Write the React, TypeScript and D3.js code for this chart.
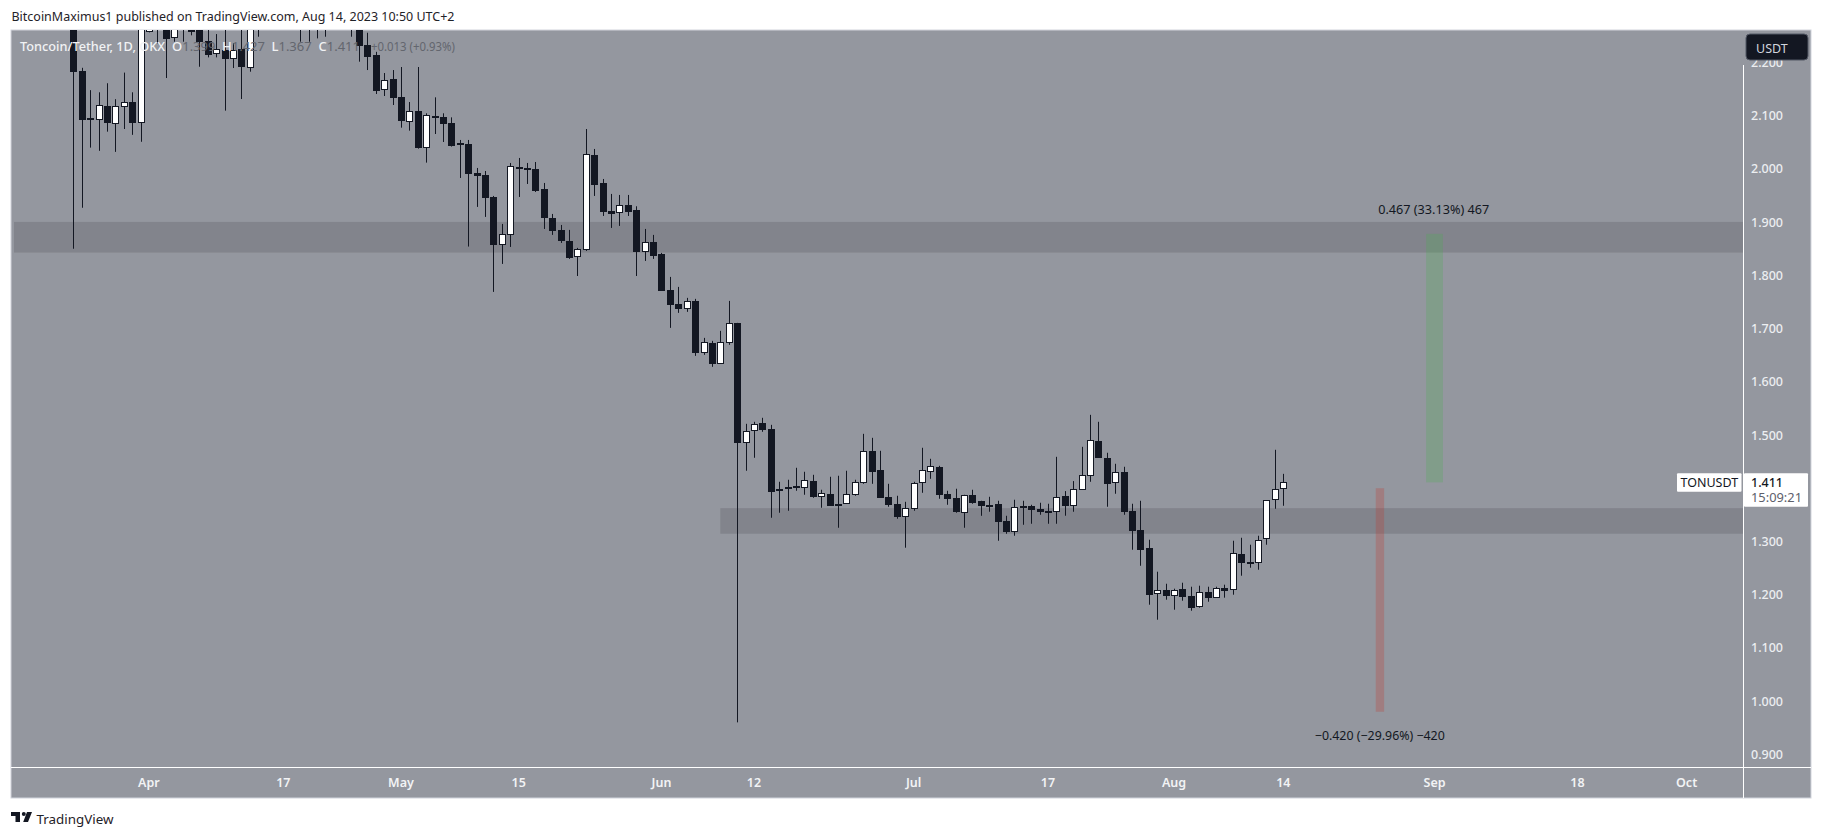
import React from "react";
import * as d3 from "d3";

const firstDay = Date.UTC(2023, 2, 23);
const lastDay = Date.UTC(2023, 7, 14);
const DAY = 86400000;

const opens = [
  2.31, 2.184, 2.095, 2.092, 2.119, 2.085, 2.117, 2.126, 2.087, 2.2566,
  2.30, 2.29, 2.2453, 2.30, 2.262, 2.285, 2.2403, 2.2153, 2.2234, 2.2071,
  2.2253, 2.1902, 2.29, 2.31, 2.32, 2.31, 2.32, 2.31, 2.30, 2.30,
  2.31, 2.31, 2.31, 2.31, 2.29, 2.2328, 2.214, 2.1476, 2.1689, 2.1351,
  2.0888, 2.1088, 2.04, 2.0988, 2.0976, 2.0863, 2.0487, 2.0469, 1.9924, 1.9886,
  1.9473, 1.8572, 1.8766, 2.0037, 2.0018, 1.9999, 1.9624, 1.9079, 1.8854, 1.8647,
  1.8346, 1.8478, 2.0262, 1.9736, 1.921, 1.9173, 1.9323, 1.9229, 1.844, 1.8628,
  1.8403, 1.7727, 1.7464, 1.737, 1.752, 1.6544, 1.6731, 1.6337, 1.6731, 1.7107,
  1.4841, 1.5066, 1.5229, 1.5116, 1.3939, 1.3977, 1.4046, 1.4008, 1.414, 1.3839,
  1.3896, 1.3708, 1.3708, 1.3877, 1.4102, 1.4703, 1.4346, 1.3839, 1.3708, 1.3464,
  1.3614, 1.4102, 1.4309, 1.4403, 1.3896, 1.3821, 1.3539, 1.3877, 1.3764, 1.3689,
  1.3708, 1.3389, 1.3182, 1.367, 1.367, 1.3614, 1.3577, 1.3545, 1.3852, 1.367,
  1.3971, 1.4234, 1.4885, 1.4572, 1.4102, 1.4309, 1.3576, 1.322, 1.2882, 1.2005,
  1.2093, 1.1968, 1.2112, 1.198, 1.1774, 1.2055, 1.1943, 1.213, 1.208, 1.2769,
  1.2619, 1.2587, 1.3038, 1.377, 1.399,
];
const highs = [
  2.33, 2.19, 2.148, 2.144, 2.161, 2.131, 2.181, 2.144, 2.32, 2.32,
  2.33, 2.31, 2.33, 2.34, 2.30, 2.31, 2.27, 2.2534, 2.28, 2.236,
  2.27, 2.34, 2.34, 2.34, 2.34, 2.34, 2.34, 2.33, 2.33, 2.33,
  2.33, 2.33, 2.33, 2.33, 2.32, 2.2559, 2.22, 2.1802, 2.1858, 2.1915,
  2.1257, 2.1915, 2.1045, 2.1345, 2.1045, 2.0969, 2.0544, 2.0544, 2.0018, 1.9961,
  1.9492, 1.8966, 2.0112, 2.0206, 2.0112, 2.013, 1.9736, 1.9154, 1.8947, 1.8854,
  1.8516, 2.075, 2.0375, 1.9811, 1.953, 1.9511, 1.9511, 1.9298, 1.8872, 1.876,
  1.8422, 1.7971, 1.7783, 1.7577, 1.7558, 1.6825, 1.6769, 1.6957, 1.752, 1.7107,
  1.521, 1.5248, 1.5323, 1.5191, 1.4121, 1.4159, 1.4384, 1.4309, 1.4252, 1.3971,
  1.4215, 1.4234, 1.4328, 1.4159, 1.5022, 1.4947, 1.4703, 1.4083, 1.3858, 1.3745,
  1.4121, 1.476, 1.4553, 1.4421, 1.3952, 1.399, 1.3877, 1.3971, 1.3764, 1.3839,
  1.3764, 1.3482, 1.3783, 1.3764, 1.3689, 1.3727, 1.3708, 1.459, 1.3946, 1.4134,
  1.4778, 1.5379, 1.5248, 1.4666, 1.4459, 1.4403, 1.3708, 1.3764, 1.3032, 1.2431,
  1.2205, 1.2112, 1.2224, 1.2149, 1.2168, 1.2149, 1.2149, 1.2187, 1.3013, 1.3069,
  1.2938, 1.3107, 1.3777, 1.4722, 1.427,
];
const lows = [
  1.85, 1.927, 2.04, 2.034, 2.07, 2.032, 2.075, 2.064, 2.051, 2.2566,
  2.236, 2.1708, 2.239, 2.239, 2.251, 2.192, 2.2096, 2.2096, 2.1095, 2.1896,
  2.1314, 2.1827, 2.2484, 2.28, 2.28, 2.28, 2.28, 2.239, 2.239, 2.2453,
  2.2484, 2.28, 2.28, 2.2484, 2.2015, 2.1858, 2.1408, 2.137, 2.1201, 2.0775,
  2.0719, 2.0381, 2.0118, 2.0656, 2.0506, 2.042, 1.983, 1.8541, 1.9286, 1.9098,
  1.7689, 1.8215, 1.8534, 1.9473, 1.9717, 1.9567, 1.8872, 1.876, 1.8609, 1.8309,
  1.7988, 1.8459, 1.9492, 1.9116, 1.8891, 1.8929, 1.9116, 1.7988, 1.8271, 1.8309,
  1.7708, 1.7013, 1.7295, 1.7314, 1.6487, 1.6506, 1.6281, 1.6337, 1.6694, 0.96,
  1.4328, 1.4572, 1.506, 1.3445, 1.3539, 1.3576, 1.3952, 1.3877, 1.382, 1.3633,
  1.367, 1.3257, 1.3708, 1.3858, 1.4083, 1.4083, 1.3821, 1.3652, 1.3426, 1.2882,
  1.3576, 1.3914, 1.4177, 1.3802, 1.3689, 1.3539, 1.3257, 1.3708, 1.3482, 1.3558,
  1.3013, 1.3144, 1.3107, 1.3313, 1.3332, 1.3501, 1.3332, 1.3332, 1.3483, 1.3558,
  1.3971, 1.4121, 1.4572, 1.3652, 1.3896, 1.3501, 1.2844, 1.2543, 1.1811, 1.1529,
  1.1905, 1.1717, 1.1886, 1.1698, 1.1755, 1.1867, 1.1943, 1.1943, 1.1999, 1.2356,
  1.2506, 1.2468, 1.2938, 1.3614, 1.367,
];
const closes = [
  2.183, 2.092, 2.092, 2.121, 2.087, 2.118, 2.125, 2.087, 2.29, 2.30,
  2.29, 2.244, 2.30, 2.31, 2.258, 2.2378, 2.214, 2.2259, 2.2065, 2.224,
  2.1921, 2.30, 2.31, 2.32, 2.31, 2.32, 2.31, 2.30, 2.30, 2.31,
  2.31, 2.31, 2.31, 2.29, 2.2315, 2.2109, 2.147, 2.1671, 2.1339, 2.0907,
  2.1088, 2.04, 2.1007, 2.0969, 2.0844, 2.0431, 2.0456, 1.9905, 1.9868, 1.9455,
  1.8572, 1.8772, 2.0055, 2.0, 1.998, 1.9586, 1.9079, 1.8835, 1.8647, 1.8328,
  1.8491, 2.0275, 1.9699, 1.9192, 1.9154, 1.9317, 1.9192, 1.844, 1.8622, 1.8365,
  1.7708, 1.7445, 1.737, 1.7514, 1.6544, 1.6744, 1.6337, 1.6744, 1.7101, 1.4853,
  1.5072, 1.5204, 1.5098, 1.3933, 1.3983, 1.4021, 1.4008, 1.4158, 1.3839, 1.3914,
  1.367, 1.367, 1.3896, 1.4121, 1.4703, 1.4309, 1.3821, 1.3689, 1.3464, 1.3633,
  1.4102, 1.4346, 1.4421, 1.3877, 1.3802, 1.3558, 1.3877, 1.3727, 1.367, 1.3652,
  1.337, 1.3182, 1.3651, 1.3652, 1.3595, 1.3558, 1.3539, 1.3833, 1.367, 1.3983,
  1.4246, 1.4904, 1.4572, 1.4083, 1.4303, 1.3558, 1.3201, 1.2844, 1.1999, 1.2087,
  1.198, 1.2087, 1.1961, 1.1755, 1.2049, 1.1943, 1.2124, 1.2074, 1.2781, 1.26,
  1.2581, 1.3025, 1.3777, 1.3983, 1.411,
];

const priceTicks = [0.9, 1.0, 1.1, 1.2, 1.3, 1.4, 1.5, 1.6, 1.7, 1.8, 1.9, 2.0, 2.1, 2.2];
const timeTicks: [number, string][] = [
  [Date.UTC(2023, 3, 1), "Apr"],
  [Date.UTC(2023, 3, 17), "17"],
  [Date.UTC(2023, 4, 1), "May"],
  [Date.UTC(2023, 4, 15), "15"],
  [Date.UTC(2023, 5, 1), "Jun"],
  [Date.UTC(2023, 5, 12), "12"],
  [Date.UTC(2023, 6, 1), "Jul"],
  [Date.UTC(2023, 6, 17), "17"],
  [Date.UTC(2023, 7, 1), "Aug"],
  [Date.UTC(2023, 7, 14), "14"],
  [Date.UTC(2023, 8, 1), "Sep"],
  [Date.UTC(2023, 8, 18), "18"],
  [Date.UTC(2023, 9, 1), "Oct"],
];

const upperZone = [1.8428, 1.9004];
const lowerZone = [1.3145, 1.3625];
const lowerZoneStart = Date.UTC(2023, 5, 8);
const gainBox = { from: Date.UTC(2023, 7, 31), to: Date.UTC(2023, 8, 2), bottom: 1.411, top: 1.878 };
const lossBox = { from: Date.UTC(2023, 7, 25), to: Date.UTC(2023, 7, 26), bottom: 0.98, top: 1.4 };

const FONT = "'Noto Sans', 'Open Sans', sans-serif";
const BG = "#94979f";
const INK = "#131722";

const W = 1826;
const H = 837;
const L = 11;
const R = 1811;
const AX = 1743;
const T = 30;
const B = 767;
const PB = 798;

const x = d3.scaleUtc().domain([firstDay, lastDay]).range([73.3, 1283.3]);
const y = d3.scaleLinear().domain([0.9, 2.1]).range([754.3, 115.7]);

export default function App() {
  const upperTop = y(upperZone[1]);
  const lowerTop = y(lowerZone[1]);
  return (
    <svg
      width={W}
      height={H}
      viewBox={`0 0 ${W} ${H}`}
      style={{ position: "fixed", left: 0, top: 0, display: "block", background: "#fff" }}
    >
      <defs>
        <clipPath id="plot">
          <rect x={L} y={T} width={AX - L} height={B - T} />
        </clipPath>
      </defs>

      <text x={11.5} y={21} fontFamily={FONT} fontSize={13.4} fill="#1f2228" textLength={443} lengthAdjust="spacingAndGlyphs">
        BitcoinMaximus1 published on TradingView.com, Aug 14, 2023 10:50 UTC+2
      </text>

      <rect x={L} y={T} width={R - L} height={PB - T} fill={BG} stroke="#d1d4dc" strokeWidth={1} />

      <rect x={L + 3} y={upperTop} width={AX - L - 3} height={y(upperZone[0]) - upperTop} fill="#82848c" />
      <rect x={x(lowerZoneStart)} y={lowerTop} width={AX - x(lowerZoneStart)} height={y(lowerZone[0]) - lowerTop} fill="#82848c" />

      <g clipPath="url(#plot)">
        {closes.map((c, i) => {
          const o = opens[i];
          const cx = Math.round(x(firstDay + i * DAY)) + 0.5;
          const up = c >= o;
          const top = Math.round(y(Math.max(o, c)));
          const bot = Math.round(y(Math.min(o, c)));
          return (
            <g key={i}>
              <line x1={cx} x2={cx} y1={y(highs[i])} y2={y(lows[i])} stroke={INK} strokeWidth={1} />
              {up ? (
                <rect x={cx - 3} y={top + 0.5} width={6} height={Math.max(bot - top - 1, 1)} fill="#fff" stroke={INK} strokeWidth={1} />
              ) : (
                <rect x={cx - 3.5} y={top} width={7} height={Math.max(bot - top, 2)} fill={INK} />
              )}
            </g>
          );
        })}
      </g>

      <rect x={x(gainBox.from)} y={y(gainBox.top)} width={x(gainBox.to) - x(gainBox.from)} height={y(gainBox.bottom) - y(gainBox.top)} fill="#4caf50" fillOpacity={0.27} />
      <rect x={x(lossBox.from)} y={y(lossBox.top)} width={x(lossBox.to) - x(lossBox.from)} height={y(lossBox.bottom) - y(lossBox.top)} fill="#c0392b" fillOpacity={0.27} />

      <text x={1433.7} y={213.7} textAnchor="middle" fontFamily={FONT} fontSize={12.5} fill={INK} textLength={111} lengthAdjust="spacingAndGlyphs">
        0.467 (33.13%) 467
      </text>
      <text x={1379.8} y={740} textAnchor="middle" fontFamily={FONT} fontSize={12.5} fill={INK} textLength={130} lengthAdjust="spacingAndGlyphs">
        −0.420 (−29.96%) −420
      </text>

      <g fontFamily={FONT} fontSize={13} fill="#f1f2f4">
        <text x={20} y={51} fontWeight={500} textLength={145} lengthAdjust="spacingAndGlyphs">Toncoin/Tether, 1D, OKX</text>
        <text x={172} y={51} fontWeight={500}>O<tspan fill="#63666e" fontWeight={400}>1.399</tspan></text>
        <text x={222} y={51} fontWeight={500}>H<tspan fill="#63666e" fontWeight={400}>1.427</tspan></text>
        <text x={271.5} y={51} fontWeight={500}>L<tspan fill="#63666e" fontWeight={400}>1.367</tspan></text>
        <text x={318.5} y={51} fontWeight={500}>C<tspan fill="#63666e" fontWeight={400}>1.411</tspan></text>
        <text x={371} y={51} fill="#63666e" textLength={84} lengthAdjust="spacingAndGlyphs">+0.013 (+0.93%)</text>
      </g>

      <line x1={AX + 0.5} x2={AX + 0.5} y1={65} y2={PB} stroke="#fff" strokeWidth={1} />
      <line x1={L} x2={R} y1={B + 0.5} y2={B + 0.5} stroke="#fff" strokeWidth={1} />

      {priceTicks.map((p) =>
        Math.abs(p - 1.4) < 0.01 ? null : (
          <text key={p} x={1751} y={y(p) + 4.5} fontFamily={FONT} fontSize={12.5} fontWeight={500} fill="#eceef1" textLength={32} lengthAdjust="spacingAndGlyphs">
            {p.toFixed(3)}
          </text>
        )
      )}

      <rect x={1746} y={34} width={62} height={26} rx={4} fill={INK} stroke="#535865" strokeWidth={1} />
      <text x={1756} y={53} fontFamily={FONT} fontSize={12.5} fill="#d1d4dc">USDT</text>

      <rect x={1677} y={473.3} width={64.5} height={18.5} fill="#fff" rx={1} />
      <text x={1709.3} y={487} textAnchor="middle" fontFamily={FONT} fontSize={12.5} fill={INK}>TONUSDT</text>
      <rect x={1744} y={473.3} width={64} height={33.5} fill="#fff" rx={1} />
      <text x={1751} y={487} fontFamily={FONT} fontSize={12.5} fontWeight={500} fill={INK} textLength={32} lengthAdjust="spacingAndGlyphs">1.411</text>
      <text x={1751} y={502} fontFamily={FONT} fontSize={12.5} fill="#5d606b" textLength={51} lengthAdjust="spacingAndGlyphs">15:09:21</text>

      {timeTicks.map(([d, label]) => (
        <text key={d} x={x(d)} y={787} textAnchor="middle" fontFamily={FONT} fontSize={12.5} fontWeight={600} fill="#f2f3f5">
          {label}
        </text>
      ))}

      <path d="M11 812h9v10h-4.5v-6H11z M27 812h5l-4 10h-4.8z" fill={INK} />
      <circle cx={23.8} cy={814} r={2} fill={INK} />
      <text x={36.5} y={823.5} fontFamily={FONT} fontSize={13.2} fill="#1f2228" textLength={77} lengthAdjust="spacingAndGlyphs">TradingView</text>
    </svg>
  );
}
